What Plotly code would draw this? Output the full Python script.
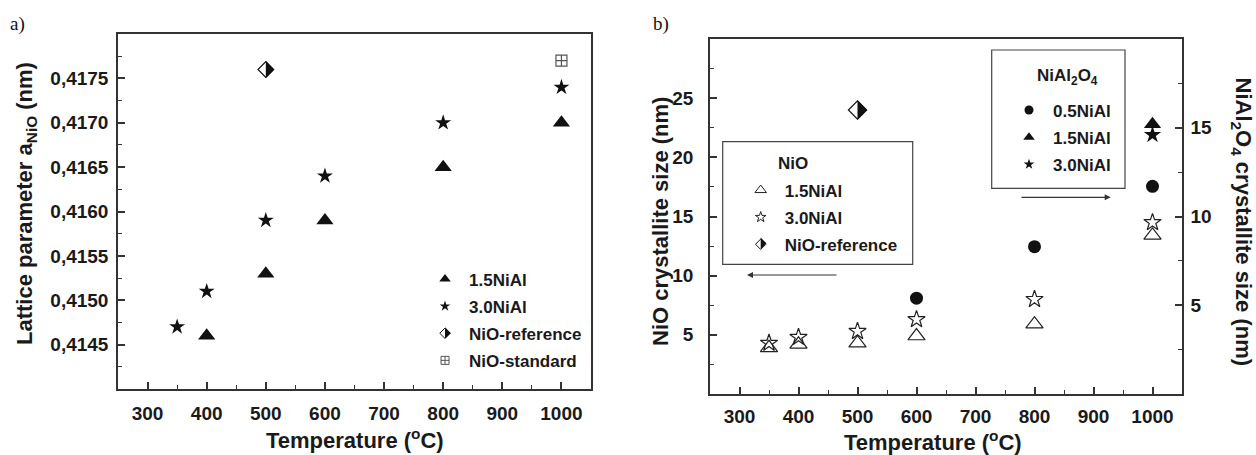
import plotly.graph_objects as go

W, H = 1256, 455

# ---------------- data: panel a (lattice parameter, nm) ----------------
temp_a_15 = [400, 500, 600, 800, 1000]
lat_a_15 = [0.4146, 0.4153, 0.4159, 0.4165, 0.4170]
temp_a_30 = [350, 400, 500, 600, 800, 1000]
lat_a_30 = [0.4147, 0.4151, 0.4159, 0.4164, 0.4170, 0.4174]
temp_a_ref = [500]
lat_a_ref = [0.4176]
temp_a_std = [1000]
lat_a_std = [0.4177]

# ---------------- data: panel b (crystallite size, nm) ----------------
# NiO (left axis)
temp_b_nio_15 = [350, 400, 500, 600, 800, 1000]
size_b_nio_15 = [3.9, 4.2, 4.3, 4.9, 5.9, 13.4]
temp_b_nio_30 = [350, 400, 500, 600, 800, 1000]
size_b_nio_30 = [4.3, 4.8, 5.3, 6.3, 8.0, 14.5]
temp_b_ref = [500]
size_b_ref = [24.0]
# NiAl2O4 (right axis)
temp_b_sp_05 = [600, 800, 1000]
size_b_sp_05 = [5.4, 8.3, 11.7]
temp_b_sp_15 = [1000]
size_b_sp_15 = [15.2]
temp_b_sp_30 = [1000]
size_b_sp_30 = [14.6]

# ---------------- tick labels ----------------
x_ticks = [300, 400, 500, 600, 700, 800, 900, 1000]
y_ticks_a = [0.4145, 0.4150, 0.4155, 0.4160, 0.4165, 0.4170, 0.4175]
y_ticks_b_left = [5, 10, 15, 20, 25]
y_ticks_b_right = [5, 10, 15]


def px(x):
    return x / W


def py(y):
    return 1 - y / H


FAM = "Liberation Sans, Arial, sans-serif"
AX = "#333333"
INK = "#111111"
TICKFONT = dict(family=FAM, size=19, color="#1a1a1a", weight="bold")
TITLEFONT = dict(family=FAM, size=22, color="#1a1a1a", weight="bold")
LEGFONT = dict(family=FAM, size=17, color="#1a1a1a", weight="bold")


def axis_style(**kw):
    d = dict(showline=True, linecolor=AX, linewidth=1.5, mirror=True,
             ticks="inside", ticklen=7, tickwidth=1.5, tickcolor=AX,
             showgrid=False, zeroline=False, tickfont=TICKFONT,
             minor=dict(ticks="inside", ticklen=4, tickwidth=1.2,
                        tickcolor=AX, showgrid=False))
    for k, v in kw.items():
        if k == "minor":
            d["minor"].update(v)
        else:
            d[k] = v
    return d


fig = go.Figure()

# ---------------- panel a traces ----------------
fig.add_trace(go.Scatter(x=temp_a_15, y=lat_a_15, mode="markers", name="1.5NiAl",
                         marker=dict(symbol="triangle-up", size=15, color=INK),
                         xaxis="x", yaxis="y", showlegend=False))
fig.add_trace(go.Scatter(x=temp_a_30, y=lat_a_30, mode="markers", name="3.0NiAl",
                         marker=dict(symbol="star", size=12, color=INK),
                         xaxis="x", yaxis="y", showlegend=False))
fig.add_trace(go.Scatter(x=temp_a_ref, y=lat_a_ref, mode="markers", name="NiO-reference",
                         marker=dict(symbol="diamond", size=12, color="white",
                                     line=dict(color=INK, width=1.2)),
                         xaxis="x", yaxis="y", showlegend=False))
fig.add_trace(go.Scatter(x=temp_a_std, y=lat_a_std, mode="markers", name="NiO-standard",
                         marker=dict(symbol="square-cross-open", size=11, color="#555555",
                                     line=dict(color="#555555", width=1.2)),
                         xaxis="x", yaxis="y", showlegend=False))

# legend entries (panel a)
leg_a = [("1.5NiAl", dict(symbol="triangle-up", size=10, color=INK)),
         ("3.0NiAl", dict(symbol="star", size=8, color=INK)),
         ("NiO-reference", dict(symbol="diamond-open", size=8, color=INK, line=dict(width=1))),
         ("NiO-standard", dict(symbol="square-cross-open", size=8, color="#555555", line=dict(width=1)))]
for i, (nm, mk) in enumerate(leg_a):
    fig.add_trace(go.Scatter(x=[None], y=[None], mode="markers", name=nm, marker=mk,
                             xaxis="x", yaxis="y", legend="legend",
                             legendgroup="a%d" % i, showlegend=True))

# ---------------- panel b traces ----------------
fig.add_trace(go.Scatter(x=temp_b_nio_15, y=size_b_nio_15, mode="markers", name="1.5NiAl",
                         marker=dict(symbol="triangle-up-open", size=15, color="#222222",
                                     line=dict(width=1.2)),
                         xaxis="x2", yaxis="y2", showlegend=False))
fig.add_trace(go.Scatter(x=temp_b_nio_30, y=size_b_nio_30, mode="markers", name="3.0NiAl",
                         marker=dict(symbol="star-open", size=13, color="#222222",
                                     line=dict(width=1.2)),
                         xaxis="x2", yaxis="y2", showlegend=False))
fig.add_trace(go.Scatter(x=temp_b_ref, y=size_b_ref, mode="markers", name="NiO-reference",
                         marker=dict(symbol="diamond", size=14, color="white",
                                     line=dict(color=INK, width=1.2)),
                         xaxis="x2", yaxis="y2", showlegend=False))
fig.add_trace(go.Scatter(x=temp_b_sp_05, y=size_b_sp_05, mode="markers", name="0.5NiAl",
                         marker=dict(symbol="circle", size=13, color=INK),
                         xaxis="x2", yaxis="y3", showlegend=False))
fig.add_trace(go.Scatter(x=temp_b_sp_15, y=size_b_sp_15, mode="markers", name="1.5NiAl",
                         marker=dict(symbol="triangle-up", size=15, color=INK),
                         xaxis="x2", yaxis="y3", showlegend=False))
fig.add_trace(go.Scatter(x=temp_b_sp_30, y=size_b_sp_30, mode="markers", name="3.0NiAl",
                         marker=dict(symbol="star", size=13, color=INK),
                         xaxis="x2", yaxis="y3", showlegend=False))

leg_b1 = [("1.5NiAl", dict(symbol="triangle-up-open", size=10, color="#222222", line=dict(width=1))),
          ("3.0NiAl", dict(symbol="star-open", size=8, color="#222222", line=dict(width=1))),
          ("NiO-reference", dict(symbol="diamond-open", size=8, color=INK, line=dict(width=1)))]
for i, (nm, mk) in enumerate(leg_b1):
    fig.add_trace(go.Scatter(x=[None], y=[None], mode="markers", name=nm, marker=mk,
                             xaxis="x2", yaxis="y2", legend="legend2",
                             legendgroup="b%d" % i, showlegend=True))

leg_b2 = [("0.5NiAl", dict(symbol="circle", size=9, color=INK)),
          ("1.5NiAl", dict(symbol="triangle-up", size=10, color=INK)),
          ("3.0NiAl", dict(symbol="star", size=8, color=INK))]
for i, (nm, mk) in enumerate(leg_b2):
    fig.add_trace(go.Scatter(x=[None], y=[None], mode="markers", name=nm, marker=mk,
                             xaxis="x2", yaxis="y3", legend="legend3",
                             legendgroup="c%d" % i, showlegend=True))

# ---------------- layout ----------------
legend_common = dict(xanchor="left", yanchor="top", bgcolor="rgba(0,0,0,0)",
                     borderwidth=0, font=LEGFONT, itemwidth=38, tracegroupgap=2,
                     traceorder="grouped")

fig.update_layout(
    width=W, height=H, autosize=False,
    margin=dict(l=0, r=0, t=0, b=0),
    paper_bgcolor="white", plot_bgcolor="white",
    separators=", ",
    xaxis=axis_style(domain=[px(118), px(591)], range=[250, 1050], anchor="y",
                     tickvals=x_ticks, ticklabelstandoff=6,
                     minor=dict(tick0=250, dtick=50)),
    yaxis=axis_style(domain=[py(389), py(34)], range=[0.4140, 0.4180], anchor="x",
                     tickvals=y_ticks_a, tickformat=".4f", ticklabelstandoff=4,
                     minor=dict(tick0=0.4140, dtick=0.00025)),
    xaxis2=axis_style(domain=[px(710), px(1182)], range=[250, 1050], anchor="y2",
                      tickvals=x_ticks, ticklabelstandoff=4,
                      minor=dict(tick0=250, dtick=50)),
    yaxis2=axis_style(domain=[py(394), py(39)], range=[0, 30], anchor="x2",
                      tickvals=y_ticks_b_left, ticklabelstandoff=11,
                      minor=dict(tick0=0, dtick=2.5)),
    yaxis3=axis_style(domain=[py(394), py(39)], range=[0, 20], anchor="x2",
                      overlaying="y2", side="right", mirror=False,
                      tickvals=y_ticks_b_right, ticklabelstandoff=3,
                      minor=dict(tick0=0, dtick=2.5)),
    legend=dict(x=px(421), y=py(261.5), **legend_common),
    legend2=dict(x=px(736.7), y=py(172.5), **legend_common),
    legend3=dict(x=px(1005), y=py(92.5), **legend_common),
)

# ---------------- text annotations ----------------
ann = []


def label(text, x, y, font, angle=0, xanchor="center"):
    ann.append(dict(text=text, x=px(x), y=py(y), xref="paper", yref="paper",
                    showarrow=False, xanchor=xanchor, yanchor="middle",
                    textangle=angle, font=font))


SERIF = dict(family="Liberation Serif, Times New Roman, serif", size=19, color="#111111")
label("a)", 8, 23.5, SERIF, xanchor="left")
label("b)", 651, 24, SERIF, xanchor="left")
label("Temperature (<sup>o</sup>C)", 355, 439, TITLEFONT)
label("Temperature (<sup>o</sup>C)", 932.5, 441, TITLEFONT)
label("Lattice parameter a<sub>NiO</sub> (nm)", 26, 204, TITLEFONT, angle=-90)
label("NiO crystallite size (nm)", 660, 222, TITLEFONT, angle=-90)
label("NiAl<sub>2</sub>O<sub>4</sub> crystallite size (nm)", 1242, 221.5, TITLEFONT, angle=90)
label("NiO", 776, 163, LEGFONT, xanchor="left")
label("NiAl<sub>2</sub>O<sub>4</sub>", 1035, 77, LEGFONT, xanchor="left")

# arrows pointing to the relevant axis
ann.append(dict(x=px(747), y=py(275), xref="paper", yref="paper", text="",
                ax=838 - 747, ay=0, axref="pixel", ayref="pixel", showarrow=True,
                arrowhead=2, arrowsize=1, arrowwidth=1.2, arrowcolor=AX))
ann.append(dict(x=px(1110.7), y=py(197.3), xref="paper", yref="paper", text="",
                ax=1020 - 1110.7, ay=0, axref="pixel", ayref="pixel", showarrow=True,
                arrowhead=2, arrowsize=1, arrowwidth=1.2, arrowcolor=AX))
fig.update_layout(annotations=ann)

# ---------------- shapes: legend frames + half-filled diamonds ----------------
shapes = [
    dict(type="rect", xref="paper", yref="paper", x0=px(722.7), x1=px(912.7),
         y0=py(264.3), y1=py(141.7), line=dict(color="#444444", width=1.2)),
    dict(type="rect", xref="paper", yref="paper", x0=px(991.7), x1=px(1125),
         y0=py(188.3), y1=py(50), line=dict(color="#444444", width=1.2)),
]


def half_diamond(xref, yref, xa, ya, h):
    return dict(type="path", xref=xref, yref=yref, xsizemode="pixel", ysizemode="pixel",
                xanchor=xa, yanchor=ya, layer="above",
                path="M0,%.2f L%.2f,0 L0,%.2f Z" % (-h, h, h),
                fillcolor=INK, line=dict(width=0))


shapes.append(half_diamond("x", "y", temp_a_ref[0], lat_a_ref[0], 1.3 * 6 + 0.6))
shapes.append(half_diamond("x2", "y2", temp_b_ref[0], size_b_ref[0], 1.3 * 7 + 0.6))
shapes.append(half_diamond("paper", "paper", px(445), py(333), 1.3 * 4 + 0.5))
shapes.append(half_diamond("paper", "paper", px(760.7), py(243.3), 1.3 * 4 + 0.5))
fig.update_layout(shapes=shapes)

fig.write_html("out.html")
